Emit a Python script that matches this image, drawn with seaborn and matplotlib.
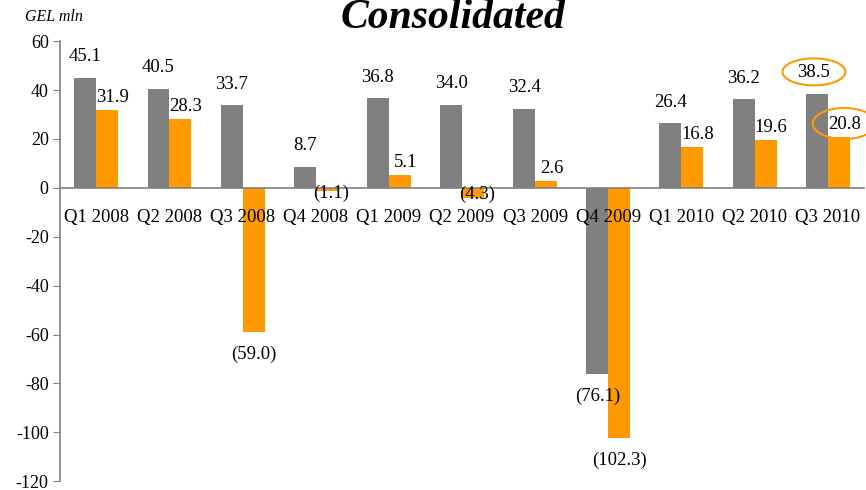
import numpy as np
import pandas as pd
import seaborn as sns
import matplotlib
matplotlib.use("Agg")
import matplotlib.pyplot as plt
from matplotlib.patches import Ellipse

# data (GEL mln)
quarters = ["Q1 2008", "Q2 2008", "Q3 2008", "Q4 2008", "Q1 2009", "Q2 2009",
            "Q3 2009", "Q4 2009", "Q1 2010", "Q2 2010", "Q3 2010"]
series_a = [45.1, 40.5, 33.7, 8.7, 36.8, 34.0, 32.4, -76.1, 26.4, 36.2, 38.5]
series_b = [31.9, 28.3, -59.0, -1.1, 5.1, -4.3, 2.6, -102.3, 16.8, 19.6, 20.8]
yticks = [-120, -100, -80, -60, -40, -20, 0, 20, 40, 60]

df = pd.DataFrame({
    "quarter": quarters * 2,
    "series": ["A"] * len(quarters) + ["B"] * len(quarters),
    "value": series_a + series_b,
})

sns.set_style("white")
plt.rcParams["font.family"] = ["Liberation Serif", "DejaVu Serif"]
plt.rcParams["text.color"] = "black"
plt.rcParams["xtick.labelcolor"] = "black"
plt.rcParams["ytick.labelcolor"] = "black"

GRAY = "#808080"
ORANGE = "#FF9900"

fig = plt.figure(figsize=(8.66, 4.9), dpi=100)
ax = fig.add_axes([0.069, 0.018, 0.929, 0.898])

sns.barplot(data=df, x="quarter", y="value", hue="series",
            palette=[GRAY, ORANGE], width=0.6, gap=0, saturation=1,
            legend=False, errorbar=None, linewidth=0, ax=ax)
for p in ax.patches:
    p.set_zorder(1)

ax.set_ylim(-120, 60)
ax.set_xlim(-0.5, len(quarters) - 0.5)
ax.set_yticks(yticks)
ax.set_yticklabels([str(t) for t in yticks], fontsize=13)
ax.set_xlabel("")
ax.set_ylabel("")

# x axis sits on zero, category ticks between groups
ax.spines["bottom"].set_position(("data", 0))
for s in ["top", "right"]:
    ax.spines[s].set_visible(False)
for s in ["left", "bottom"]:
    ax.spines[s].set_color(GRAY)
    ax.spines[s].set_linewidth(1.2)
    ax.spines[s].set_zorder(3)
ax.set_xticks(np.arange(-0.5, len(quarters), 1), minor=True)
ax.tick_params(axis="x", which="major", length=0, pad=15, labelsize=13.5,
               labelcolor="black")
ax.tick_params(axis="x", which="minor", length=6, color=GRAY, direction="out")
ax.tick_params(axis="y", length=5, color=GRAY, direction="out", left=True, pad=3,
               labelcolor="black")
ax.xaxis.set_zorder(5)

# value labels
n = len(quarters)
circled = []
for ci, cont in enumerate(ax.containers):
    for i, bar in enumerate(cont):
        v = bar.get_height()
        x = bar.get_x() + bar.get_width() / 2
        txt = f"{v:.1f}" if v >= 0 else f"({abs(v):.1f})"
        if v >= 0:
            dy = 15 if ci == 0 else 9
            dx = -2 if ci == 0 and i == n - 1 else (0 if ci == 0 else 4)
        elif v > -10:
            # small negatives sit on the axis line
            dy = -4 if v > -2 else -5
            dx = 3
            v = 0
        else:
            dy, dx = -16, 0
        t = ax.annotate(txt, xy=(x, v), xytext=(dx, dy), textcoords="offset points",
                        ha="center", va="center", fontsize=13.5, color="black",
                        annotation_clip=False, zorder=6)
        if i == n - 1:
            circled.append(t)

fig.text(0.029, 0.965, "GEL mln", fontsize=11.5, style="italic", va="center")
fig.text(0.523, 0.943, "Consolidated", fontsize=30, fontweight="bold",
         style="italic", ha="center", va="baseline", color="black")

# orange rings around the latest quarter's labels
fig.canvas.draw()
for k, t in enumerate(circled):
    bb = t.get_window_extent()
    cx, cy = (bb.x0 + bb.x1) / 2, (bb.y0 + bb.y1) / 2
    fig.add_artist(Ellipse((cx, cy + 1), bb.width + 30, bb.height + 10 + 4 * k,
                           transform=None, fc="none", ec=ORANGE, lw=1.5))

fig.savefig("out.png", dpi=100)
